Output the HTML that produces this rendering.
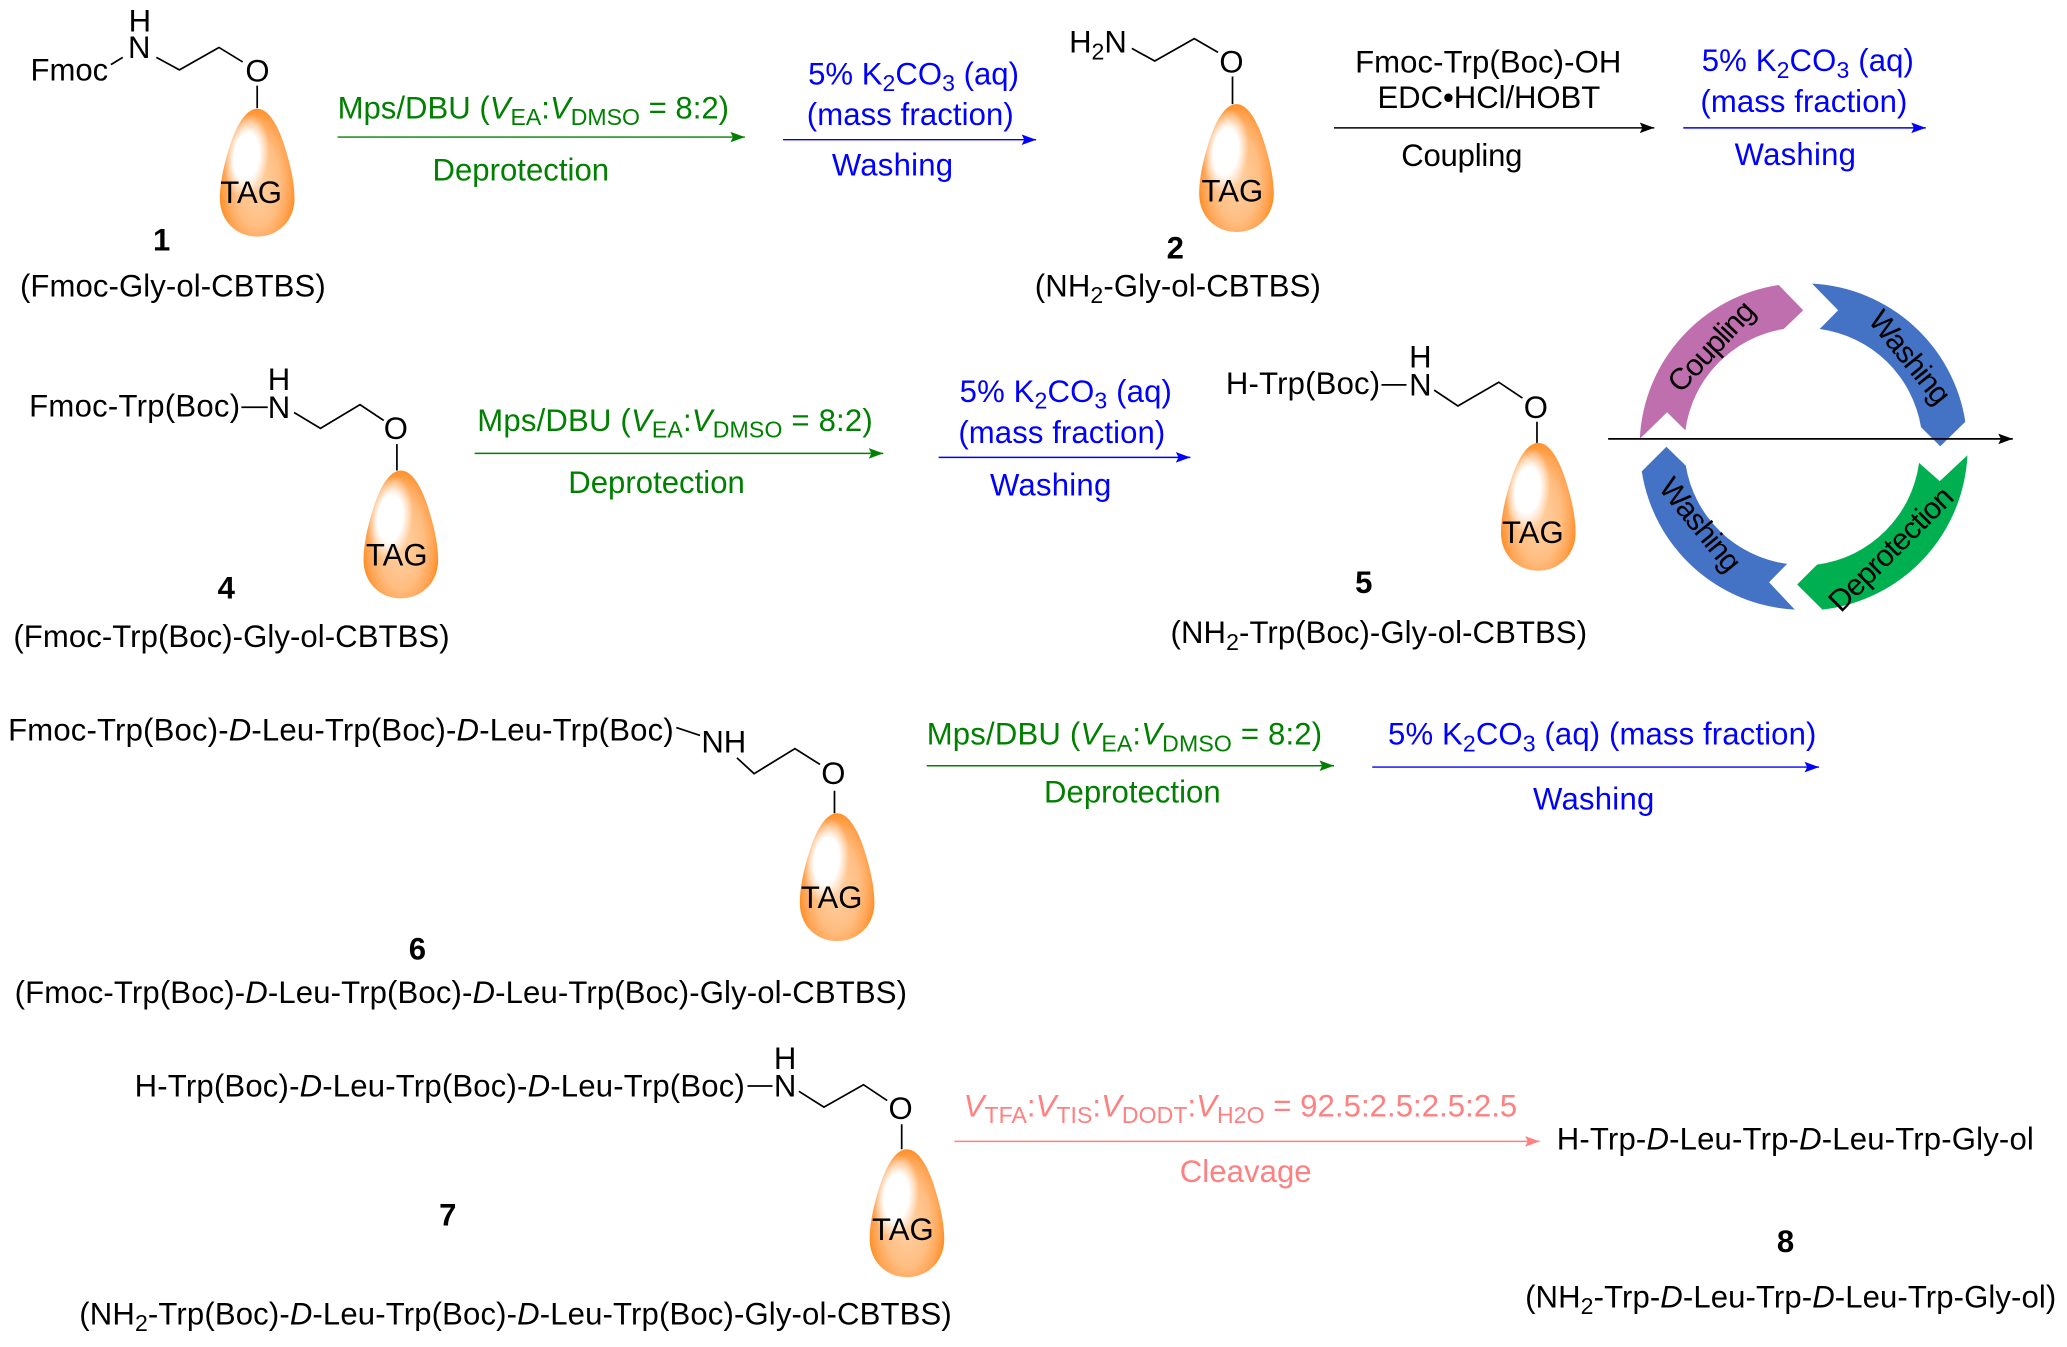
<!DOCTYPE html>
<html><head><meta charset="utf-8"><style>
html,body{margin:0;padding:0;background:#fff}
svg{display:block}
text{font-family:"Liberation Sans",sans-serif;font-size:23.6px;fill:#000}
.g{fill:#008000}.b{fill:#0000ff}.p{fill:#ff8080}
.bold{font-weight:bold}
.s{font-size:17.5px}
.l{stroke:#000;stroke-width:1.3;fill:none}
.c{font-size:23px}
</style></head><body>
<svg xmlns="http://www.w3.org/2000/svg" width="2067" height="1347" viewBox="0 0 1568 1022">
<defs>
<radialGradient id="dg" gradientUnits="userSpaceOnUse" cx="0" cy="0" r="1" gradientTransform="translate(0 56) scale(31 60)">
<stop offset="0" stop-color="#ffd2a6"/><stop offset="0.55" stop-color="#ffbe82"/><stop offset="0.8" stop-color="#ffa454"/><stop offset="0.93" stop-color="#ff9028"/><stop offset="1" stop-color="#f88608"/>
</radialGradient>
<radialGradient id="hl">
<stop offset="0" stop-color="#fff"/><stop offset="0.55" stop-color="#fff"/><stop offset="1" stop-color="#fff" stop-opacity="0"/>
</radialGradient>
<g id="drop">
<path d="M0,0 C9,0 16,14 20,26 C24,38 28.300,54 28.300,68 C28.300,85 16,97 0,97 C-16,97 -28.300,85 -28.300,68 C-28.300,54 -24,38 -20,26 C-16,14 -9,0 0,0Z" fill="url(#dg)"/>
<ellipse cx="-8" cy="36" rx="17" ry="32" transform="rotate(6 -8 36)" fill="url(#hl)"/>
</g>
<marker id="mk" markerUnits="userSpaceOnUse" markerWidth="12" markerHeight="8" refX="11" refY="4" orient="auto"><path d="M0,0 L11,4 L0,8 L2,4Z" fill="#000"/></marker>
<marker id="mg" markerUnits="userSpaceOnUse" markerWidth="12" markerHeight="8" refX="11" refY="4" orient="auto"><path d="M0,0 L11,4 L0,8 L2,4Z" fill="#008000"/></marker>
<marker id="mb" markerUnits="userSpaceOnUse" markerWidth="12" markerHeight="8" refX="11" refY="4" orient="auto"><path d="M0,0 L11,4 L0,8 L2,4Z" fill="#0000ff"/></marker>
<marker id="mp" markerUnits="userSpaceOnUse" markerWidth="12" markerHeight="8" refX="11" refY="4" orient="auto"><path d="M0,0 L11,4 L0,8 L2,4Z" fill="#ff8080"/></marker>
</defs>

<!-- cycle -->
<path fill="#bf6fae" d="M1244,333 A124,124 0 0 1 1349.4,216.2 L1368,235.4 L1353.2,249.6 A90,90 0 0 0 1278.6,326.5 L1264.7,312.8Z"/>
<path fill="#4472c4" d="M1374.7,215.2 A124,124 0 0 1 1491,320 L1472,338.6 L1457.4,324.2 A90,90 0 0 0 1380.5,249.6 L1394.5,235.4Z"/>
<path fill="#00b050" d="M1492.6,345.4 A124,124 0 0 1 1382.6,462.5 L1363.4,443.5 L1378.5,428.4 A90,90 0 0 0 1455.9,351.2 L1471.6,365Z"/>
<path fill="#4472c4" d="M1361.6,462.5 A124,124 0 0 1 1245.5,357.6 L1264.2,339 L1278.9,353.3 A90,90 0 0 0 1355.8,427.8 L1342.1,441.8Z"/>
<text class="c" text-anchor="middle" transform="translate(1304,268) rotate(-47)" textLength="85">Coupling</text>
<text class="c" text-anchor="middle" transform="translate(1443,276) rotate(51)" textLength="84">Washing</text>
<text class="c" text-anchor="middle" transform="translate(1284,403) rotate(51)" textLength="84">Washing</text>
<text class="c" text-anchor="middle" transform="translate(1440,422) rotate(-45)" textLength="123">Deprotection</text>
<line x1="1220" y1="333" x2="1527" y2="333" class="l" marker-end="url(#mk)"/>

<!-- arrows -->
<line x1="256" y1="104" x2="565" y2="104" stroke="#008000" stroke-width="1.1" marker-end="url(#mg)"/>
<line x1="594" y1="106" x2="786" y2="106" stroke="#0000ff" stroke-width="1.1" marker-end="url(#mb)"/>
<line x1="1012" y1="97" x2="1255" y2="97" stroke="#000" stroke-width="1.1" marker-end="url(#mk)"/>
<line x1="1277" y1="97" x2="1461" y2="97" stroke="#0000ff" stroke-width="1.1" marker-end="url(#mb)"/>
<line x1="360" y1="344" x2="670" y2="344" stroke="#008000" stroke-width="1.1" marker-end="url(#mg)"/>
<line x1="712" y1="347" x2="903" y2="347" stroke="#0000ff" stroke-width="1.1" marker-end="url(#mb)"/>
<line x1="703" y1="581" x2="1012" y2="581" stroke="#008000" stroke-width="1.1" marker-end="url(#mg)"/>
<line x1="1041" y1="582" x2="1380" y2="582" stroke="#0000ff" stroke-width="1.1" marker-end="url(#mb)"/>
<line x1="724" y1="866" x2="1168" y2="866" stroke="#ff8080" stroke-width="1.1" marker-end="url(#mp)"/>

<!-- drops -->
<use href="#drop" x="195" y="82.500"/>
<use href="#drop" x="938" y="79"/>
<use href="#drop" x="304" y="357"/>
<use href="#drop" x="1167" y="336"/>
<use href="#drop" x="635" y="617"/>
<use href="#drop" x="688" y="872"/>
<text x="167" y="154">TAG</text>
<text x="911.500" y="153">TAG</text>
<text x="277.500" y="429">TAG</text>
<text x="1139.500" y="412">TAG</text>
<text x="607.500" y="689">TAG</text>
<text x="661.500" y="941">TAG</text>

<!-- structure 1 -->
<path class="l" d="M84,49 L93,43.5 M118.5,43.5 L136,53 L166,36 L184,47 M195,65 L195,82"/>
<text x="23" y="61">Fmoc</text>
<text x="97.500" y="24">H</text><text x="97" y="44">N</text>
<text x="186" y="62">O</text>
<text x="116" y="190" class="bold">1</text>
<text x="15" y="225" textLength="232">(Fmoc-Gly-ol-CBTBS)</text>

<!-- reagents row 1 -->
<text x="256" y="90" class="g" textLength="297">Mps/DBU (<tspan font-style="italic">V</tspan><tspan class="s" dy="5">EA</tspan><tspan dy="-5">:</tspan><tspan font-style="italic">V</tspan><tspan class="s" dy="5">DMSO</tspan><tspan dy="-5"> = 8:2)</tspan></text>
<text x="328" y="137" class="g" textLength="134">Deprotection</text>
<text x="613" y="64" class="b" textLength="160">5% K<tspan class="s" dy="5">2</tspan><tspan dy="-5">CO</tspan><tspan class="s" dy="5">3</tspan><tspan dy="-5"> (aq)</tspan></text>
<text x="612" y="95" class="b" textLength="157">(mass fraction)</text>
<text x="631" y="133" class="b" textLength="92">Washing</text>

<!-- structure 2 -->
<path class="l" d="M858.600,36.700 L876,46.300 L906,29.300 L924,39.700 M935,58 L935,79"/>
<text x="811" y="40">H<tspan class="s" dy="5">2</tspan><tspan dy="-5">N</tspan></text>
<text x="925" y="55">O</text>
<text x="885" y="196" class="bold">2</text>
<text x="785" y="225" textLength="217">(NH<tspan class="s" dy="5">2</tspan><tspan dy="-5">-Gly-ol-CBTBS)</tspan></text>

<text x="1028" y="55" textLength="202">Fmoc-Trp(Boc)-OH</text>
<text x="1045" y="82" textLength="169">EDC•HCl/HOBT</text>
<text x="1063" y="126" textLength="92">Coupling</text>
<text x="1291" y="54" class="b" textLength="161">5% K<tspan class="s" dy="5">2</tspan><tspan dy="-5">CO</tspan><tspan class="s" dy="5">3</tspan><tspan dy="-5"> (aq)</tspan></text>
<text x="1290" y="85" class="b" textLength="157">(mass fraction)</text>
<text x="1316" y="125" class="b" textLength="92">Washing</text>

<!-- structure 4 -->
<text x="22" y="316" textLength="160">Fmoc-Trp(Boc)</text>
<path class="l" d="M183,309 L203,309 M223,313 L243,325 L273,307 L291,319 M301,337 L301,357"/>
<text x="203" y="296">H</text><text x="203" y="317">N</text>
<text x="291" y="333">O</text>
<text x="165" y="454" class="bold">4</text>
<text x="10" y="491" textLength="331">(Fmoc-Trp(Boc)-Gly-ol-CBTBS)</text>

<text x="362" y="327" class="g" textLength="300">Mps/DBU (<tspan font-style="italic">V</tspan><tspan class="s" dy="5">EA</tspan><tspan dy="-5">:</tspan><tspan font-style="italic">V</tspan><tspan class="s" dy="5">DMSO</tspan><tspan dy="-5"> = 8:2)</tspan></text>
<text x="431" y="374" class="g" textLength="134">Deprotection</text>
<text x="728" y="305" class="b" textLength="161">5% K<tspan class="s" dy="5">2</tspan><tspan dy="-5">CO</tspan><tspan class="s" dy="5">3</tspan><tspan dy="-5"> (aq)</tspan></text>
<text x="727" y="336" class="b" textLength="157">(mass fraction)</text>
<text x="751" y="376" class="b" textLength="92">Washing</text>

<!-- structure 5 -->
<text x="930" y="299" textLength="117">H-Trp(Boc)</text>
<path class="l" d="M1048,292 L1067,292 M1088,296 L1106,308 L1137,290 L1155,302 M1166,320 L1166,336"/>
<text x="1069" y="279">H</text><text x="1069" y="300">N</text>
<text x="1156" y="317">O</text>
<text x="1028" y="450" class="bold">5</text>
<text x="888" y="488" textLength="316">(NH<tspan class="s" dy="5">2</tspan><tspan dy="-5">-Trp(Boc)-Gly-ol-CBTBS)</tspan></text>

<!-- structure 6 -->
<text x="6" y="562" textLength="505">Fmoc-Trp(Boc)-<tspan font-style="italic">D</tspan>-Leu-Trp(Boc)-<tspan font-style="italic">D</tspan>-Leu-Trp(Boc)</text>
<path class="l" d="M513,552 L531,558 M559,575 L572,587 L603,568 L622,580 M633,600 L633,617"/>
<text x="532" y="571">NH</text>
<text x="623" y="595">O</text>
<text x="310" y="728" class="bold">6</text>
<text x="11" y="761" textLength="677">(Fmoc-Trp(Boc)-<tspan font-style="italic">D</tspan>-Leu-Trp(Boc)-<tspan font-style="italic">D</tspan>-Leu-Trp(Boc)-Gly-ol-CBTBS)</text>

<text x="703" y="565" class="g" textLength="300">Mps/DBU (<tspan font-style="italic">V</tspan><tspan class="s" dy="5">EA</tspan><tspan dy="-5">:</tspan><tspan font-style="italic">V</tspan><tspan class="s" dy="5">DMSO</tspan><tspan dy="-5"> = 8:2)</tspan></text>
<text x="792" y="609" class="g" textLength="134">Deprotection</text>
<text x="1053" y="565" class="b" textLength="325">5% K<tspan class="s" dy="5">2</tspan><tspan dy="-5">CO</tspan><tspan class="s" dy="5">3</tspan><tspan dy="-5"> (aq) (mass fraction)</tspan></text>
<text x="1163" y="614" class="b" textLength="92">Washing</text>

<!-- structure 7 -->
<text x="102" y="832" textLength="463">H-Trp(Boc)-<tspan font-style="italic">D</tspan>-Leu-Trp(Boc)-<tspan font-style="italic">D</tspan>-Leu-Trp(Boc)</text>
<path class="l" d="M567,824 L586,824 M606,828 L625,840 L655,823 L673,835 M684,853 L684,872"/>
<text x="587" y="811">H</text><text x="587" y="832">N</text>
<text x="674" y="849">O</text>
<text x="333" y="930" class="bold">7</text>
<text x="60" y="1005" textLength="662">(NH<tspan class="s" dy="5">2</tspan><tspan dy="-5">-Trp(Boc)-</tspan><tspan font-style="italic">D</tspan>-Leu-Trp(Boc)-<tspan font-style="italic">D</tspan>-Leu-Trp(Boc)-Gly-ol-CBTBS)</text>

<text x="731" y="847" class="p" textLength="420"><tspan font-style="italic">V</tspan><tspan class="s" dy="5">TFA</tspan><tspan dy="-5">:</tspan><tspan font-style="italic">V</tspan><tspan class="s" dy="5">TIS</tspan><tspan dy="-5">:</tspan><tspan font-style="italic">V</tspan><tspan class="s" dy="5">DODT</tspan><tspan dy="-5">:</tspan><tspan font-style="italic">V</tspan><tspan class="s" dy="5">H2O</tspan><tspan dy="-5"> = 92.5:2.5:2.5:2.5</tspan></text>
<text x="895" y="897" class="p" textLength="100">Cleavage</text>

<text x="1181" y="872" textLength="362">H-Trp-<tspan font-style="italic">D</tspan>-Leu-Trp-<tspan font-style="italic">D</tspan>-Leu-Trp-Gly-ol</text>
<text x="1348" y="950" class="bold">8</text>
<text x="1157" y="992" textLength="403">(NH<tspan class="s" dy="5">2</tspan><tspan dy="-5">-Trp-</tspan><tspan font-style="italic">D</tspan>-Leu-Trp-<tspan font-style="italic">D</tspan>-Leu-Trp-Gly-ol)</text>
</svg>
</body></html>
